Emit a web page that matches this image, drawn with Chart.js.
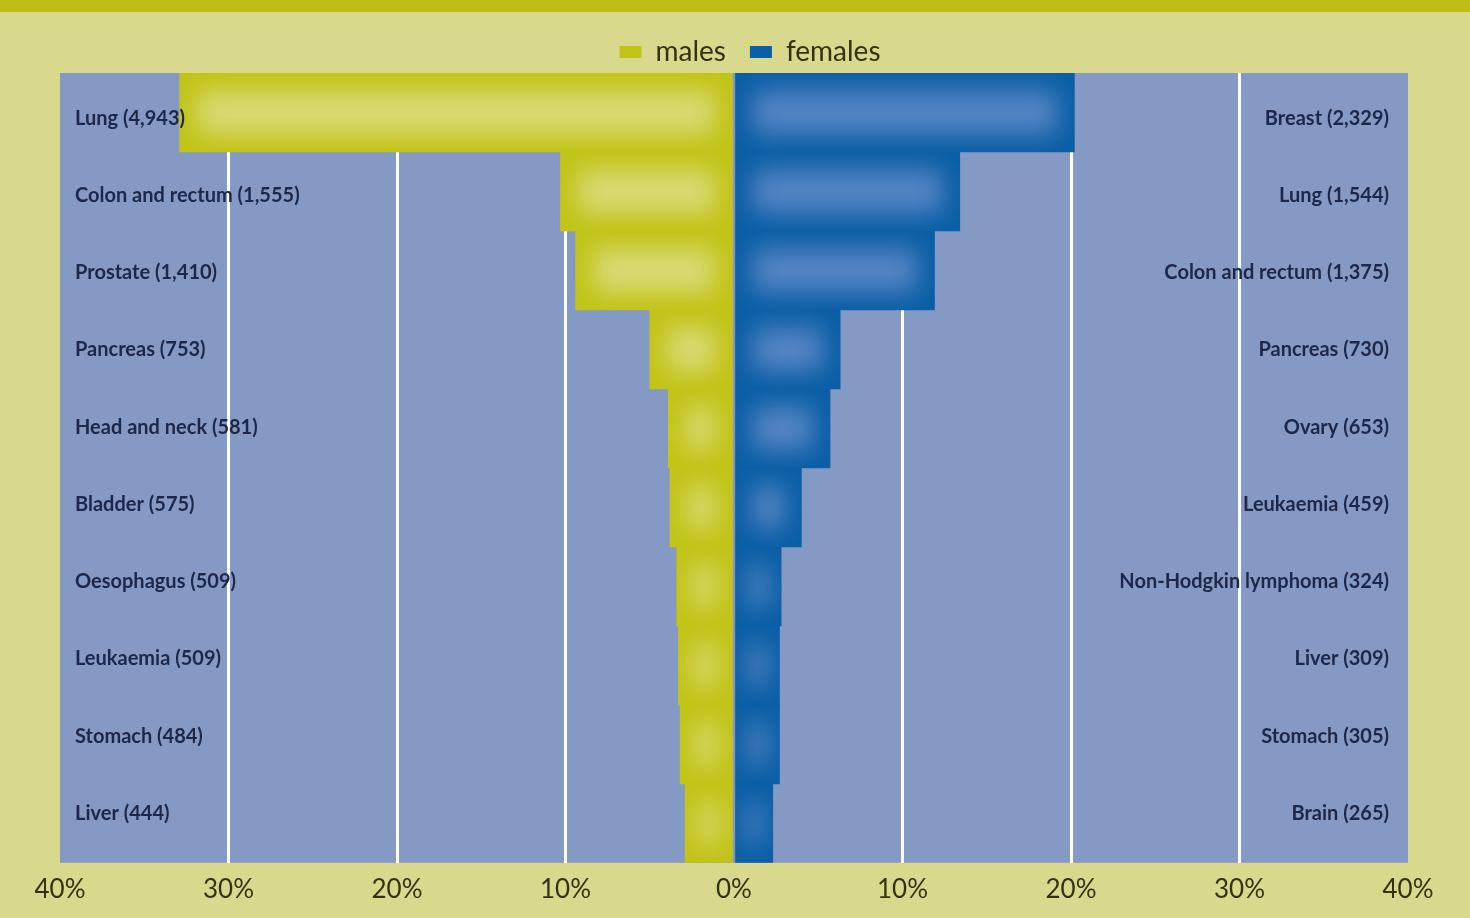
<!DOCTYPE html>
<html>
<head>
<meta charset="utf-8">
<script src="https://cdn.jsdelivr.net/npm/chart.js@4/dist/chart.umd.min.js"></script>
<style>
    body { margin: 0; background: #d9d98d; }
    .top-band { height: 12px; background: #bdbd14; }
    .chart-container { position: absolute; left: 0; top: 0; width: 1470px; height: 918px; }
</style>
</head>
<body>
<div class="top-band"></div>
<div class="chart-container"><canvas id="sitesChart"></canvas></div>
<script>
// share of all cancer deaths, percent
const maleSites = ['Lung', 'Colon and rectum', 'Prostate', 'Pancreas', 'Head and neck', 'Bladder', 'Oesophagus', 'Leukaemia', 'Stomach', 'Liver'];
const maleCounts = [4943, 1555, 1410, 753, 581, 575, 509, 509, 484, 444];
const malePct = [32.9, 10.3, 9.4, 5.0, 3.9, 3.8, 3.4, 3.3, 3.2, 2.9];

const femaleSites = ['Breast', 'Lung', 'Colon and rectum', 'Pancreas', 'Ovary', 'Leukaemia', 'Non-Hodgkin lymphoma', 'Liver', 'Stomach', 'Brain'];
const femaleCounts = [2329, 1544, 1375, 730, 653, 459, 324, 309, 305, 265];
const femalePct = [20.2, 13.4, 11.9, 6.3, 5.7, 4.0, 2.8, 2.7, 2.7, 2.3];

const xTicks = [-40, -30, -20, -10, 0, 10, 20, 30, 40];

const maleColor = '#c2c417';
const femaleColor = '#0b5fa6';
const labelFont = 'bold 20px Lato';

// blue plot area behind the bars
const plotBackground = {
    id: 'plotBackground',
    beforeDraw(chart) {
        const { ctx, chartArea } = chart;
        ctx.save();
        ctx.fillStyle = '#8499c4';
        ctx.fillRect(chartArea.left, chartArea.top, chartArea.width, chartArea.height);
        ctx.restore();
    }
};

// legend sits a little right of centre and close to the plot in the original
const legendNudge = {
    id: 'legendNudge',
    afterLayout(chart) {
        chart.legend.left += 16;
        chart.legend.right += 16;
        chart.legend.top += 3;
        chart.legend.bottom += 3;
    }
};

// soft light centre on each bar, like the airbrushed original
const barGlow = {
    id: 'barGlow',
    afterDatasetsDraw(chart) {
        const ctx = chart.ctx;
        const glows = ['rgba(222, 222, 140, 0.8)', 'rgba(118, 148, 208, 0.7)'];
        chart.data.datasets.forEach((ds, di) => {
            chart.getDatasetMeta(di).data.forEach(bar => {
                const p = bar.getProps(['x', 'y', 'base', 'height'], true);
                const left = Math.min(p.x, p.base);
                const right = Math.max(p.x, p.base);
                const top = p.y - p.height / 2;
                const w = right - left;
                const insetX = Math.min(18, w * 0.3);
                const insetY = 18;
                ctx.save();
                ctx.beginPath();
                ctx.rect(left, top, w, p.height);
                ctx.clip();
                ctx.filter = 'blur(12px)';
                ctx.fillStyle = glows[di];
                ctx.fillRect(left + insetX, top + insetY, w - insetX * 2, p.height - insetY * 2);
                ctx.restore();
            });
        });
    }
};

// site names inside the plot, males left, females right
// (the labels run on a slightly tighter pitch than the bars in the original)
const siteLabels = {
    id: 'siteLabels',
    afterDatasetsDraw(chart) {
        const { ctx, chartArea, scales } = chart;
        const mid = (chartArea.top + chartArea.bottom) / 2;
        const labelY = i => mid + (scales.y.getPixelForValue(i) - mid) * 0.978 - 2;
        ctx.save();
        ctx.font = labelFont;
        ctx.fillStyle = '#1e2748';
        ctx.textBaseline = 'middle';
        maleSites.forEach((name, i) => {
            ctx.textAlign = 'left';
            ctx.fillText(name + ' (' + maleCounts[i].toLocaleString('en-US') + ')', chartArea.left + 15, labelY(i));
        });
        femaleSites.forEach((name, i) => {
            ctx.textAlign = 'right';
            ctx.fillText(name + ' (' + femaleCounts[i].toLocaleString('en-US') + ')', chartArea.right - 19, labelY(i));
        });
        ctx.restore();
    }
};

const ctx = document.getElementById('sitesChart');

new Chart(ctx, {
    type: 'bar',
    data: {
        labels: maleSites.map((s, i) => i),
        datasets: [{
            label: 'males',
            data: malePct.map(v => -v),
            backgroundColor: maleColor,
            barPercentage: 1,
            categoryPercentage: 1
        }, {
            label: 'females',
            data: femalePct,
            backgroundColor: femaleColor,
            barPercentage: 1,
            categoryPercentage: 1
        }]
    },
    options: {
        indexAxis: 'y',
        responsive: true,
        maintainAspectRatio: false,
        animation: false,
        layout: {
            padding: { left: 60, right: 62, top: 32, bottom: 2 }
        },
        plugins: {
            legend: {
                position: 'top',
                labels: {
                    boxWidth: 22,
                    boxHeight: 12,
                    padding: 3,
                    color: '#33330f',
                    font: { family: 'Lato', size: 28 },
                    generateLabels(chart) {
                        // wider gap after "males", as in the original
                        const items = Chart.defaults.plugins.legend.labels.generateLabels(chart);
                        items[0].text = items[0].text + '\u2002\u2009\u2009';
                        return items;
                    }
                }
            },
            tooltip: { enabled: false }
        },
        scales: {
            x: {
                stacked: true,
                min: -40,
                max: 40,
                afterBuildTicks(axis) {
                    axis.ticks = xTicks.map(v => ({ value: v }));
                },
                grid: {
                    color: c => (Math.abs(c.tick.value) === 40 || c.tick.value === 0) ? 'rgba(0,0,0,0)' : '#ffffff',
                    lineWidth: 3,
                    drawTicks: false
                },
                border: { display: false },
                ticks: {
                    color: '#33330f',
                    padding: 11,
                    font: { family: 'Lato', size: 26 },
                    callback: v => Math.abs(v) + '%'
                }
            },
            y: {
                stacked: true,
                display: false,
                offset: true
            }
        }
    },
    plugins: [plotBackground, legendNudge, barGlow, siteLabels]
});
</script>
</body>
</html>
